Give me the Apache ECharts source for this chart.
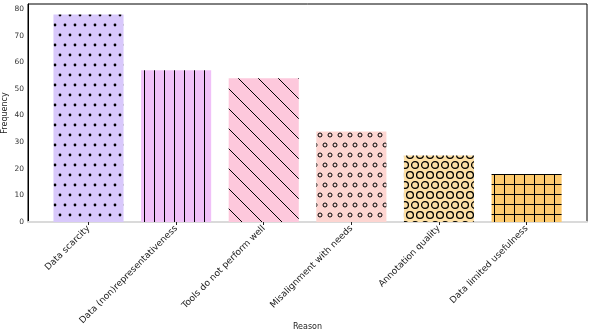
<!DOCTYPE html>
<html>
<head>
<meta charset="utf-8">
<script src="https://cdn.jsdelivr.net/npm/echarts@6/dist/echarts.min.js"></script>
<style>
  html, body { margin: 0; padding: 0; background: #fff; }
  #chart { width: 590px; height: 332px; }
</style>
</head>
<body>
<div id="chart"></div>
<script>
// data
const reasons = [
  'Data scarcity',
  'Data (non)representativeness',
  'Tools do not perform well',
  'Misalignment with needs',
  'Annotation quality',
  'Data limited usefulness'
];
const frequency = [78, 57, 54, 34, 25, 18];
const yTicks = [0, 10, 20, 30, 40, 50, 60, 70, 80];

const barColors = ['#d8c8fb', '#f0c0f8', '#fdc8dc', '#fdd5d1', '#fde0a6', '#fdca6e'];
const hatches = ['.', '|', '\\', 'o', 'O', '+'];

// little canvas tiles used as fill patterns (matplotlib-like hatches)
function hatchFill(bg, kind) {
  var w = 10, h = 20;
  if (kind === '\\') { w = 20; h = 20; }
  if (kind === '|' || kind === '+') { h = 10; }
  var c = document.createElement('canvas');
  c.width = w; c.height = h;
  var ctx = c.getContext('2d');
  ctx.fillStyle = bg;
  ctx.fillRect(0, 0, w, h);
  ctx.fillStyle = '#000';
  ctx.strokeStyle = '#000';
  ctx.lineWidth = 1;
  function ring(x, y, r) {
    ctx.beginPath(); ctx.arc(x, y, r, 0, Math.PI * 2); ctx.stroke();
  }
  if (kind === '.') {
    [[5, 5], [0, 15], [10, 15]].forEach(function (p) {
      ctx.beginPath(); ctx.arc(p[0], p[1], 1.4, 0, Math.PI * 2); ctx.fill();
    });
  } else if (kind === '|') {
    ctx.fillRect(4, 0, 1, h);
  } else if (kind === '\\') {
    for (var k = -1; k <= 1; k++) {
      ctx.beginPath();
      ctx.moveTo(k * 20 - 1, -1);
      ctx.lineTo(k * 20 + 21, 21);
      ctx.stroke();
    }
  } else if (kind === 'o') {
    [[5, 5], [0, 15], [10, 15]].forEach(function (p) { ring(p[0], p[1], 2); });
  } else if (kind === 'O') {
    ctx.lineWidth = 1.3;
    [[5, 5], [0, 15], [10, 15], [5, 25], [5, -5], [0, -5], [10, 25]].forEach(function (p) { ring(p[0], p[1], 3.4); });
  } else if (kind === '+') {
    ctx.fillRect(4, 0, 1, h);
    ctx.fillRect(0, 4, w, 1);
  }
  return { image: c, repeat: 'repeat' };
}

var chart = echarts.init(document.getElementById('chart'));

// frame grid spans the whole axes box; the bar grid is inset so that
// each category band is the same width as in the picture (x range -0.69..5.69)
var option = {
  animation: false,
  textStyle: { fontFamily: 'DejaVu Sans' },
  grid: [
    { left: 28, right: 3, top: 4, bottom: 110, outerBoundsMode: 'none', containLabel: false,
      show: true, borderColor: '#000', borderWidth: 1 },
    { left: 44.7, right: 19.6, top: 4, bottom: 110, outerBoundsMode: 'none', containLabel: false }
  ],
  xAxis: [{
    gridIndex: 0,
    type: 'value',
    min: 0,
    max: 1,
    name: 'Reason',
    nameLocation: 'middle',
    nameGap: 101,
    nameMoveOverlap: false,
    nameTextStyle: { fontSize: 8, color: '#222' },
    splitLine: { show: false },
    axisLine: { show: true, lineStyle: { color: '#dadada', width: 2 } },
    axisTick: { show: false },
    axisLabel: { show: false }
  }, {
    gridIndex: 1,
    type: 'category',
    data: reasons,
    axisLine: { show: false },
    axisTick: { show: true, alignWithLabel: true, length: 3, lineStyle: { color: '#222' } },
    axisLabel: {
      interval: 0,
      rotate: 45,
      margin: 5,
      fontSize: 9,
      color: '#222'
    }
  }],
  yAxis: [{
    gridIndex: 0,
    type: 'value',
    min: 0,
    max: 81.9,
    name: 'Frequency',
    nameLocation: 'middle',
    nameGap: 19,
    nameMoveOverlap: false,
    nameTextStyle: { fontSize: 8, color: '#222' },
    splitLine: { show: false },
    axisLine: { show: true, lineStyle: { color: '#000', width: 1 } },
    axisTick: { show: false },
    axisLabel: { customValues: yTicks, margin: 4, fontSize: 7.5, color: '#333' }
  }, {
    gridIndex: 1,
    type: 'value',
    min: 0,
    max: 81.9,
    show: false
  }],
  series: [{
    type: 'bar',
    xAxisIndex: 1,
    yAxisIndex: 1,
    barWidth: '80%',
    data: frequency.map(function (v, i) {
      return { value: v, itemStyle: { color: hatchFill(barColors[i], hatches[i]) } };
    })
  }]
};

chart.setOption(option);
</script>
</body>
</html>
